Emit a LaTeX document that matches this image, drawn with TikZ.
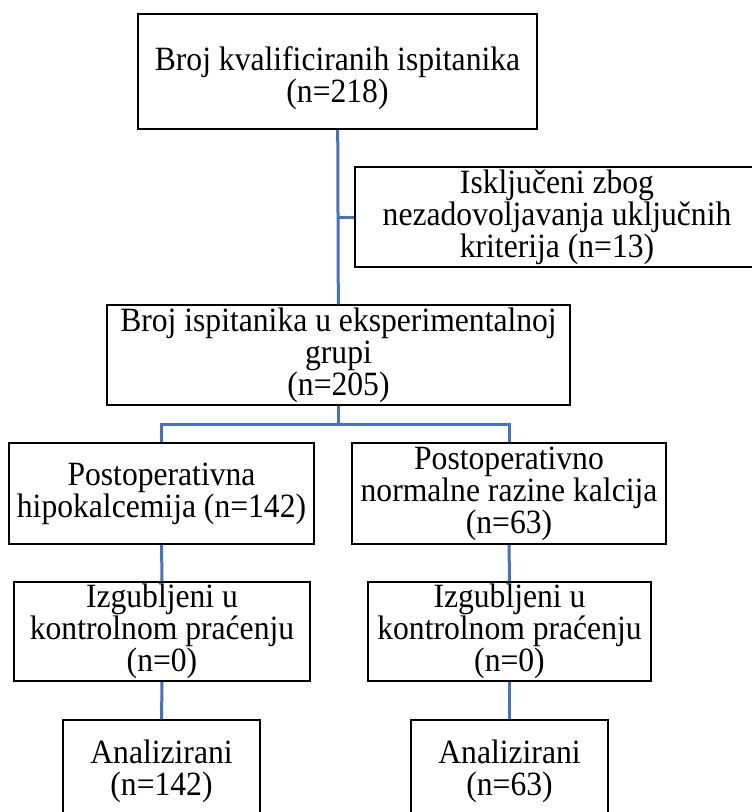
\documentclass[tikz,border=0pt]{standalone}
\usepackage{fontspec}
\setmainfont[FakeStretch=0.93]{Liberation Serif}
\usetikzlibrary{calc}

\definecolor{linkblue}{RGB}{68,114,196}

\begin{document}
\begin{tikzpicture}[x=1pt, y=-1pt,
    box/.style = {draw, line width=1.5pt, inner sep=0pt, align=center,
                  font=\fontsize{34}{32}\selectfont},
    boxtext/.style = {inner sep=0pt, align=center,
                  font=\fontsize{34}{32}\selectfont},
    link/.style = {linkblue, line width=3pt}]

  % Fix the page to the size of the reference

  \useasboundingbox (0,0) rectangle (752,812);

  % Boxes of the flow, placed at their centres
  %   (the first one carries its text a little lower)

  \node[box, minimum width=399, minimum height=115] (eligible) at (337.5, 71.5) {};
  \node[boxtext] (eligibletext) at ($(eligible) + (0, 7)$)
    {Broj kvalificiranih ispitanika\\(n=218)};
  \node[box, minimum width=404, minimum height=100] (excluded) at (557, 217)
    {Isključeni zbog\\nezadovoljavanja uključnih\\kriterija (n=13)};
  \node[box, minimum width=463, minimum height=100] (group) at (338.5, 355)
    {Broj ispitanika u eksperimentalnoj\\grupi\\(n=205)};

  % Left and right branch

  \node[box, minimum width=305, minimum height=101] (hypo) at (161.5, 493.5)
    {Postoperativna\\hipokalcemija (n=142)};
  \node[box, minimum width=314, minimum height=101] (normo) at (509, 493.5)
    {Postoperativno\\normalne razine kalcija\\(n=63)};

  \node[box, minimum width=296, minimum height=99] (lostH) at (162, 631.5)
    {Izgubljeni u\\kontrolnom praćenju\\(n=0)};
  \node[box, minimum width=283, minimum height=99] (lostN) at (509.5, 631.5)
    {Izgubljeni u\\kontrolnom praćenju\\(n=0)};

  \node[box, minimum width=197, minimum height=102] (analH) at (161.5, 771)
    {Analizirani\\(n=142)};
  \node[box, minimum width=197, minimum height=102] (analN) at (509.5, 771)
    {Analizirani\\(n=63)};

  % Trunk with the side branch to the excluded ones

  \draw[link] (eligible) -- (group);
  \draw[link] (excluded.west) -- (excluded.west -| eligible.south);

  % Split of the group into two arms

  \coordinate (fork) at ($(group.south) + (0, 19)$);
  \draw[link] (group) -- (fork);
  \draw[link] (hypo) |- (fork) -| (normo);

  % Down each arm

  \draw[link] (hypo) -- (lostH);
  \draw[link] (lostH) -- (analH);
  \draw[link] (normo) -- (lostN);
  \draw[link] (lostN) -- (analN);

\end{tikzpicture}
\end{document}
